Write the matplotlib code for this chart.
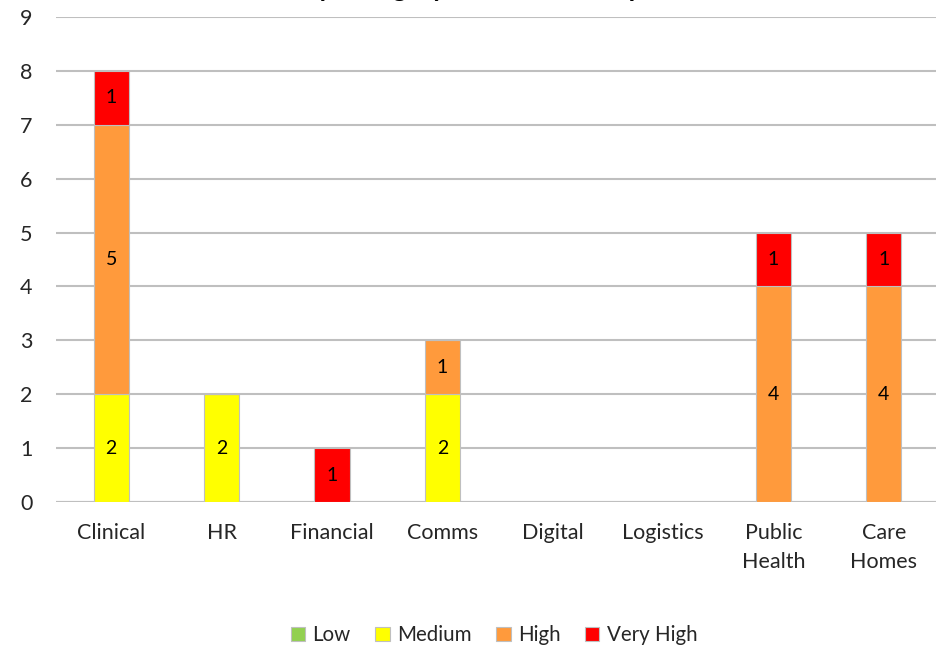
import matplotlib
matplotlib.use("Agg")
import matplotlib.pyplot as plt
import numpy as np

categories = ["Clinical", "HR", "Financial", "Comms", "Digital", "Logistics",
              "Public\nHealth", "Care\nHomes"]
levels = ["Low", "Medium", "High", "Very High"]
low = [0, 0, 0, 0, 0, 0, 0, 0]
medium = [2, 2, 0, 2, 0, 0, 0, 0]
high = [5, 0, 0, 1, 0, 0, 4, 4]
very_high = [1, 0, 1, 0, 0, 0, 1, 1]
y_ticks = [0, 1, 2, 3, 4, 5, 6, 7, 8, 9]
title = "Risks by Category and Current Impact"

colors = ["#92D050", "#FFFF00", "#FF9A3C", "#FF0000"]
series = [low, medium, high, very_high]

plt.rcParams["font.family"] = ["Lato", "DejaVu Sans"]

fig = plt.figure(figsize=(9.36, 6.52), dpi=100)
ax = fig.add_axes([56 / 936, 150 / 652, 883 / 936, 485 / 652])

x = np.arange(len(categories))
bottom = np.zeros(len(categories))
handles = []
for name, vals, col in zip(levels, series, colors):
    vals = np.array(vals, dtype=float)
    bars = ax.bar(x, vals, width=0.32, bottom=bottom, color=col,
                  edgecolor="#BFBFBF", linewidth=0.8, zorder=3, label=name)
    for xi, b, v in zip(x, bottom, vals):
        if v > 0:
            ax.text(xi, b + v / 2, f"{int(v)}", ha="center", va="center",
                    fontsize=14, color="#000000", zorder=4)
    handles.append(bars)
    bottom += vals

ax.set_xlim(-0.5, len(categories) - 0.5)
ax.set_ylim(0, 9)
ax.set_yticks(y_ticks)
ax.set_xticks(x)
ax.set_xticklabels(categories, fontsize=15.5, color="#262626", linespacing=1.6)
ax.tick_params(axis="y", labelsize=15.5, labelcolor="#262626", length=0, pad=17)
ax.tick_params(axis="x", length=0, pad=15)
ax.yaxis.grid(True, color="#BFBFBF", linewidth=1.5, zorder=0)
ax.set_axisbelow(True)
for s in ax.spines.values():
    s.set_visible(False)
ax.axhline(0, color="#BFBFBF", linewidth=1.5, zorder=2)

fig.text(0.489, 1.004, title, ha="center", va="baseline",
         fontsize=19, fontweight="bold", color="#000000")

fig.legend(handles=handles, labels=levels, loc="center", ncol=4,
           bbox_to_anchor=(494 / 936, 1 - 635 / 652), frameon=False,
           fontsize=14.8, handlelength=0.7, handleheight=0.7,
           handletextpad=0.35, columnspacing=1.2, labelcolor="#262626")

fig.savefig("out.png", dpi=100)
